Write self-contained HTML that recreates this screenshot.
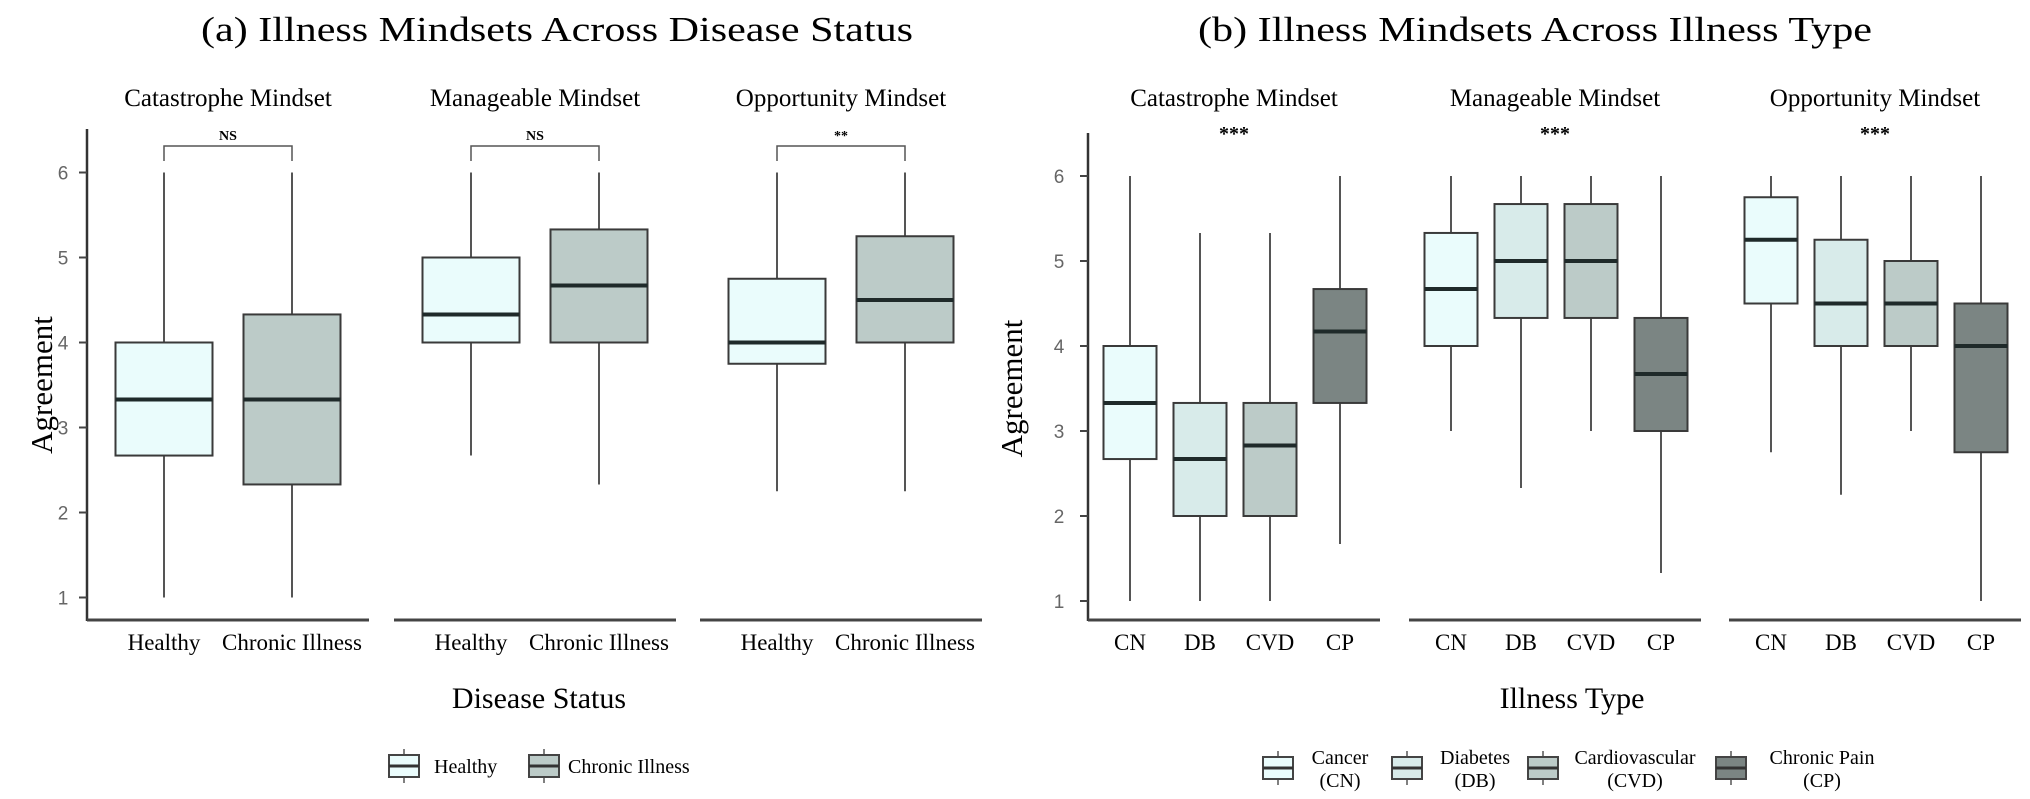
<!DOCTYPE html>
<html><head><meta charset="utf-8"><style>
html,body{margin:0;padding:0;background:#fff;}
svg{display:block;font-family:"Liberation Serif",serif;}
</style></head><body>
<svg id="chart" width="2030" height="799" viewBox="0 0 2030 799" xmlns="http://www.w3.org/2000/svg">
<text x="557" y="41" text-anchor="middle" font-size="35" textLength="712" lengthAdjust="spacingAndGlyphs">(a) Illness Mindsets Across Disease Status</text>
<text x="1535" y="41" text-anchor="middle" font-size="35" textLength="674" lengthAdjust="spacingAndGlyphs">(b) Illness Mindsets Across Illness Type</text>
<g id="plot"></g>
</svg>
<script>
const facets = ["Catastrophe  Mindset","Manageable  Mindset","Opportunity  Mindset"];
const groupsA = ["Healthy","Chronic Illness"];
const groupsB = ["CN","DB","CVD","CP"];
const yTicks = [1,2,3,4,5,6];
const sigA = ["NS","NS","**"];
const sigB = ["***","***","***"];
// [whiskerLow, q1, median, q3, whiskerHigh]
const catA = [[1,2.67,3.33,4,6],[1,2.33,3.33,4.33,6]];
const manA = [[2.67,4,4.33,5,6],[2.33,4,4.67,5.33,6]];
const oppA = [[2.25,3.75,4,4.75,6],[2.25,4,4.5,5.25,6]];
const catB = [[1,2.67,3.33,4,6],[1,2,2.67,3.33,5.33],[1,2,2.83,3.33,5.33],[1.67,3.33,4.17,4.67,6]];
const manB = [[3,4,4.67,5.33,6],[2.33,4.33,5,5.67,6],[3,4.33,5,5.67,6],[1.33,3,3.67,4.33,6]];
const oppB = [[2.75,4.5,5.25,5.75,6],[2.25,4,4.5,5.25,6],[3,4,4.5,5,6],[1,2.75,4,4.5,6]];
const colorsA = ["#eafcfc","#bccbc8"];
const colorsB = ["#eafcfc","#d8ebea","#bccbc8","#7b8583"];
const legendB = [["Cancer","(CN)"],["Diabetes","(DB)"],["Cardiovascular","(CVD)"],["Chronic Pain","(CP)"]];

const NS="http://www.w3.org/2000/svg";
const g=document.getElementById('plot');
function el(tag,attrs,parent){const e=document.createElementNS(NS,tag);for(const k in attrs)e.setAttribute(k,attrs[k]);(parent||g).appendChild(e);return e;}
function yA(v){return 597.5-(v-1)*85;}
function yB(v){return 601-(v-1)*85;}

function panel(cfg){
  const {y,axisX,tickLabelX,agreeX,facetX,facetW,offs,bw,data,groups,colors,sigs,bracket,titleY}=cfg;
  const ax=el('line',{x1:axisX,x2:axisX,y1:cfg.axisTop,y2:621,stroke:'#333','stroke-width':2.5});
  
  yTicks.forEach(t=>{
    const tk=el('line',{x1:axisX-8,x2:axisX,y1:y(t),y2:y(t),stroke:'#444','stroke-width':2});
    
    const tl=el('text',{x:tickLabelX,y:y(t)+7,'text-anchor':'middle','font-size':19,fill:'#666','font-family':'Liberation Sans, sans-serif'});
    tl.textContent=t;
    
  });
  const at=el('text',{x:agreeX,y:y(3.5)+12,'text-anchor':'middle','font-size':31,transform:`rotate(-90 ${agreeX} ${y(3.5)})`});
  at.textContent='Agreement';
  
  facets.forEach((f,fi)=>{
    const x0=facetX[fi];
    const fl=el('line',{x1:x0,x2:x0+facetW,y1:620,y2:620,stroke:'#444','stroke-width':3});
    
    const ft=el('text',{x:x0+facetW/2,y:titleY,'text-anchor':'middle','font-size':25});
    ft.textContent=f;
    
    const cx=offs.map(o=>x0+o);
    data[fi].forEach((d,i)=>{
      const c=cx[i];
      const w=el('line',{x1:c,x2:c,y1:y(d[0]),y2:y(d[4]),stroke:'#555','stroke-width':2});
      
      const b=el('rect',{x:c-bw/2,y:y(d[3]),width:bw,height:y(d[1])-y(d[3]),fill:colors[i],stroke:'#3a3a3a','stroke-width':2});
      
      const m=el('line',{x1:c-bw/2,x2:c+bw/2,y1:y(d[2]),y2:y(d[2]),stroke:'#1f2a2a','stroke-width':4});
      
      const lab=el('text',{x:c,y:650,'text-anchor':'middle','font-size':23});
      lab.textContent=groups[i];
      
    });
    if(bracket){
      const p=el('path',{d:`M${cx[0]} 161 V146 H${cx[1]} V161`,fill:'none',stroke:'#555','stroke-width':1.5});
      
      const s=el('text',{x:(cx[0]+cx[1])/2,y:140,'text-anchor':'middle','font-size':14,'font-weight':'bold'});
      s.textContent=sigs[fi];
      
    } else {
      const s=el('text',{x:x0+facetW/2,y:140,'text-anchor':'middle','font-size':20,'font-weight':'bold'});
      s.textContent=sigs[fi];
      
    }
  });
}
panel({y:yA,axisX:87,axisTop:129,tickLabelX:63,agreeX:40,facetX:[87,394,700],facetW:282,offs:[77,205],bw:97,
  data:[catA,manA,oppA],groups:groupsA,colors:colorsA,sigs:sigA,bracket:true,titleY:106});
panel({y:yB,axisX:1088,axisTop:133,tickLabelX:1059,agreeX:1010,facetX:[1088,1409,1729],facetW:292,offs:[42,112,182,252],bw:53,
  data:[catB,manB,oppB],groups:groupsB,colors:colorsB,sigs:sigB,bracket:false,titleY:106});

const xa=el('text',{x:539,y:708,'text-anchor':'middle','font-size':30});xa.textContent='Disease Status';

const xb=el('text',{x:1572,y:708,'text-anchor':'middle','font-size':30});xb.textContent='Illness Type';


function legendIcon(x,yc,color){
  const gi=el('g',{});
  el('line',{x1:x,x2:x,y1:yc-17,y2:yc+17,stroke:'#555','stroke-width':1.5},gi);
  el('rect',{x:x-15,y:yc-11,width:30,height:22,fill:color,stroke:'#444','stroke-width':2},gi);
  el('line',{x1:x-15,x2:x+15,y1:yc,y2:yc,stroke:'#333','stroke-width':3},gi);
  return gi;
}
const la=[[404,434,'Healthy',colorsA[0]],[544,568,'Chronic Illness',colorsA[1]]];
la.forEach(l=>{
  const gi=legendIcon(l[0],766,l[3]);
  
  const t=el('text',{x:l[1],y:773,'font-size':20});t.textContent=l[2];
  
});
const lbIcon=[1278,1407,1543,1731], lbText=[1340,1475,1635,1822];
legendB.forEach((l,i)=>{
  const gi=legendIcon(lbIcon[i],768,colorsB[i]);
  
  const t=el('text',{x:lbText[i],y:764,'text-anchor':'middle','font-size':20});t.textContent=l[0];
  
  const t2=el('text',{x:lbText[i],y:787,'text-anchor':'middle','font-size':20});t2.textContent=l[1];
  
});
</script>
</body></html>
